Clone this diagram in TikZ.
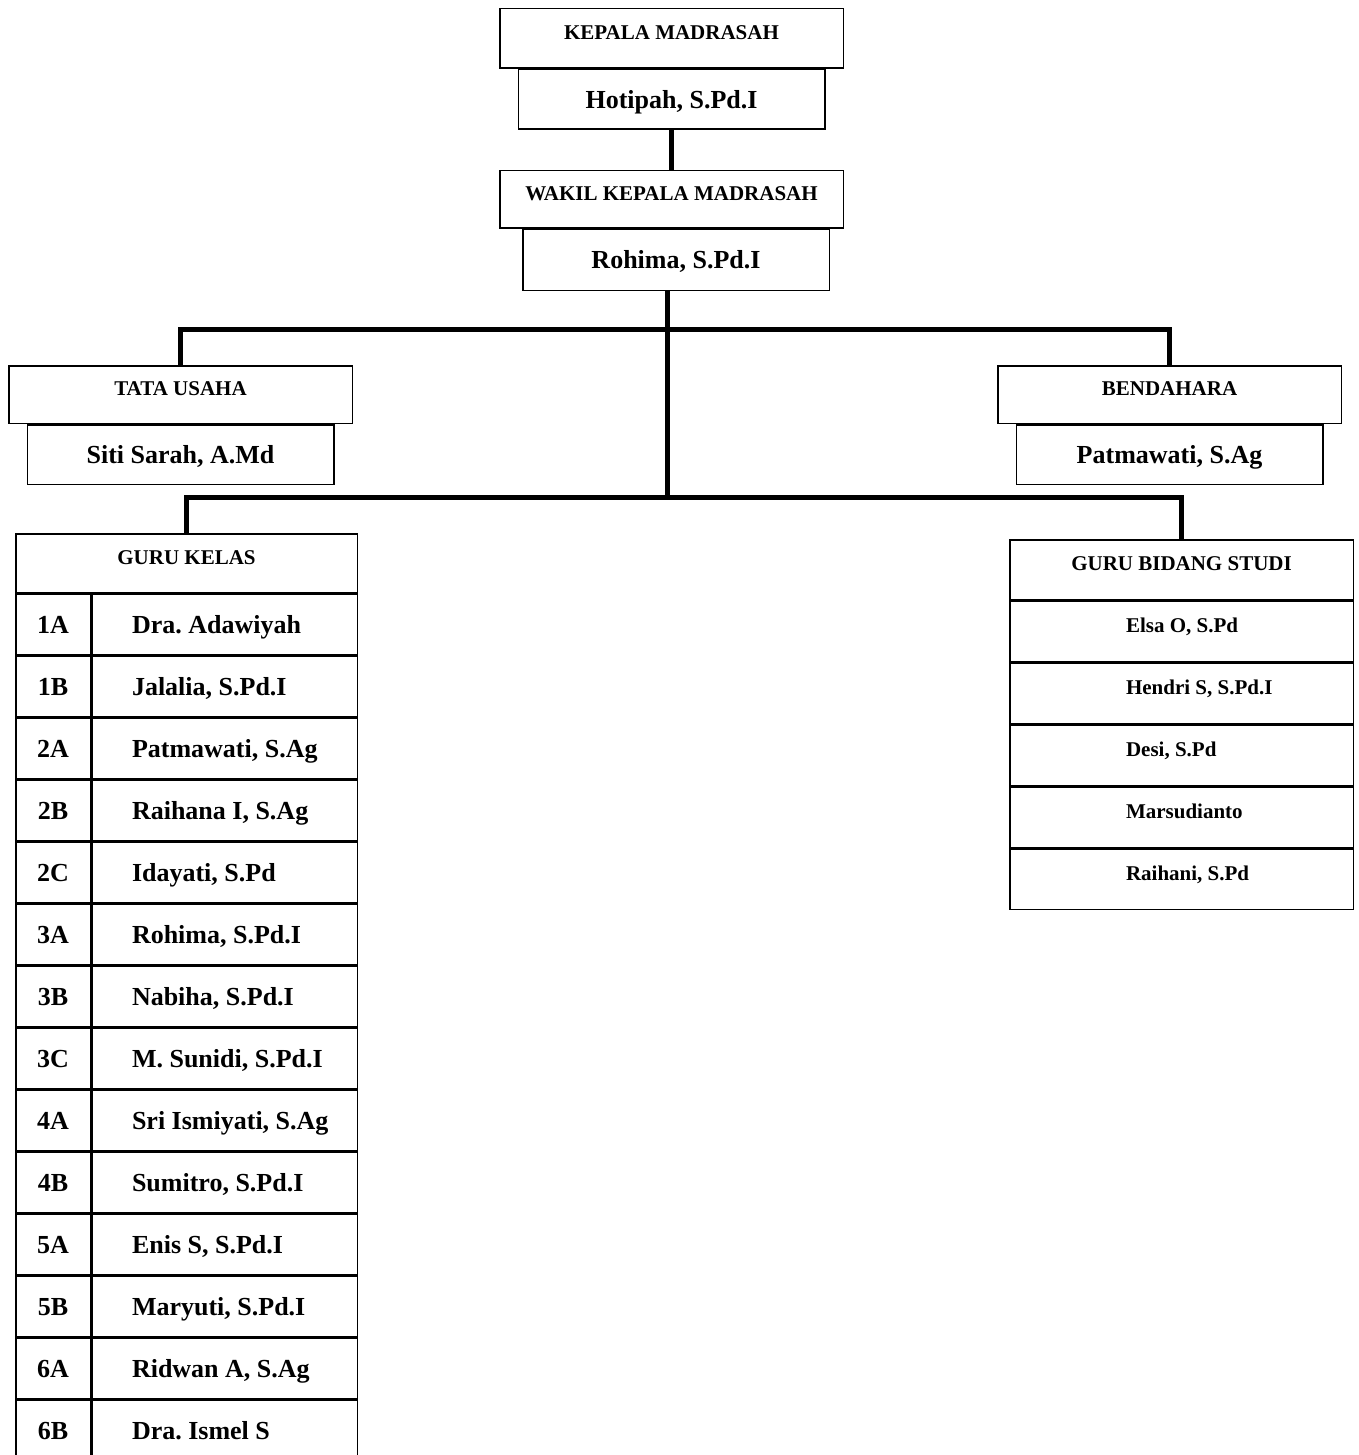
\documentclass[tikz,border=0pt]{standalone}
\usepackage{fontspec}
\setmainfont{Liberation Serif}
\usetikzlibrary{positioning, calc}
\tikzstyle{jabatan} = [rectangle, minimum width=343.5pt, minimum height=57.5pt, inner sep=0pt, text centered, draw=black, line width=1.5pt, font=\fontsize{21}{25}\selectfont\bfseries, text height=14pt, text depth=12pt]
\tikzstyle{nama} = [rectangle, minimum width=306.5pt, minimum height=59.5pt, inner sep=0pt, text centered, draw=black, line width=1.5pt, font=\fontsize{26}{31}\selectfont\bfseries, text height=18pt, text depth=0pt]
\tikzstyle{kelas} = [nama, minimum width=74.5pt, minimum height=60.5pt]
\tikzstyle{guru} = [nama, minimum width=265.5pt, minimum height=60.5pt]
\tikzstyle{mapel} = [jabatan, minimum height=60.5pt]
\tikzstyle{garis} = [line width=5pt]
\newcommand{\kiri}[2][185pt]{\makebox[#1][l]{#2}}
\frenchspacing

\begin{document}
\begin{tikzpicture}[x=1pt, y=-1pt]
\useasboundingbox (0,0) rectangle (1358,1455);

% Pimpinan
\node (kepala) [jabatan, minimum height=59.5pt] at (671.5,38.5) {KEPALA MADRASAH};
\node (hotipah) [nama, below=0pt of kepala] {Hotipah, S.Pd.I};
\node (wakil) [jabatan] at (671.5,199.5) {WAKIL KEPALA MADRASAH};
\node (rohima) [nama, minimum height=60.5pt, below=0pt of wakil, xshift=4.5pt] {Rohima, S.Pd.I};

% Tata usaha e bendahara
\node (tata) [jabatan] at (180.5,394.5) {TATA USAHA};
\node (siti) [nama, below=0pt of tata] {Siti Sarah, A.Md};
\node (bendahara) [jabatan] at (1169.5,394.5) {BENDAHARA};
\node (patmawati) [nama, below=0pt of bendahara] {Patmawati, S.Ag};

% Guru kelas
\node (gurukelas) [jabatan, minimum width=341.5pt, minimum height=58.5pt] at (186.5,563) {GURU KELAS};
\node (kelas_1a) [kelas, below right=0pt and 0pt of gurukelas.south west] {1A};
\node (guru_1a) [guru, right=0pt of kelas_1a] {\kiri{Dra. Adawiyah}};
\node (kelas_1b) [kelas, below=0pt of kelas_1a] {1B};
\node (guru_1b) [guru, right=0pt of kelas_1b] {\kiri{Jalalia, S.Pd.I}};
\node (kelas_2a) [kelas, below=0pt of kelas_1b] {2A};
\node (guru_2a) [guru, right=0pt of kelas_2a] {\kiri{Patmawati, S.Ag}};
\node (kelas_2b) [kelas, below=0pt of kelas_2a] {2B};
\node (guru_2b) [guru, right=0pt of kelas_2b] {\kiri{Raihana I, S.Ag}};
\node (kelas_2c) [kelas, below=0pt of kelas_2b] {2C};
\node (guru_2c) [guru, right=0pt of kelas_2c] {\kiri{Idayati, S.Pd}};
\node (kelas_3a) [kelas, below=0pt of kelas_2c] {3A};
\node (guru_3a) [guru, right=0pt of kelas_3a] {\kiri{Rohima, S.Pd.I}};
\node (kelas_3b) [kelas, below=0pt of kelas_3a] {3B};
\node (guru_3b) [guru, right=0pt of kelas_3b] {\kiri{Nabiha, S.Pd.I}};
\node (kelas_3c) [kelas, below=0pt of kelas_3b] {3C};
\node (guru_3c) [guru, right=0pt of kelas_3c] {\kiri{M. Sunidi, S.Pd.I}};
\node (kelas_4a) [kelas, below=0pt of kelas_3c] {4A};
\node (guru_4a) [guru, right=0pt of kelas_4a] {\kiri{Sri Ismiyati, S.Ag}};
\node (kelas_4b) [kelas, below=0pt of kelas_4a] {4B};
\node (guru_4b) [guru, right=0pt of kelas_4b] {\kiri{Sumitro, S.Pd.I}};
\node (kelas_5a) [kelas, below=0pt of kelas_4b] {5A};
\node (guru_5a) [guru, right=0pt of kelas_5a] {\kiri{Enis S, S.Pd.I}};
\node (kelas_5b) [kelas, below=0pt of kelas_5a] {5B};
\node (guru_5b) [guru, right=0pt of kelas_5b] {\kiri{Maryuti, S.Pd.I}};
\node (kelas_6a) [kelas, below=0pt of kelas_5b] {6A};
\node (guru_6a) [guru, right=0pt of kelas_6a] {\kiri{Ridwan A, S.Ag}};
\node (kelas_6b) [kelas, below=0pt of kelas_6a] {6B};
\node (guru_6b) [guru, right=0pt of kelas_6b] {\kiri{Dra. Ismel S}};

% Guru bidang studi
\node (gurubidang) [jabatan, minimum height=59.5pt] at (1181.5,569.5) {GURU BIDANG STUDI};
\node (mapel_1) [mapel, below=0pt of gurubidang] {\kiri[111pt]{Elsa O, S.Pd}};
\node (mapel_2) [mapel, below=0pt of mapel_1] {\kiri[111pt]{Hendri S, S.Pd.I}};
\node (mapel_3) [mapel, below=0pt of mapel_2] {\kiri[111pt]{Desi, S.Pd}};
\node (mapel_4) [mapel, below=0pt of mapel_3] {\kiri[111pt]{Marsudianto}};
\node (mapel_5) [mapel, below=0pt of mapel_4] {\kiri[111pt]{Raihani, S.Pd}};

% Garis penghubung
\coordinate (snodo1) at (667,329);
\coordinate (snodo2) at (667,497);
\draw [garis] (hotipah.south) -- (wakil.north);
\draw [garis] (rohima.south -| snodo1) -- (snodo2);
\draw [garis] (tata.north) |- (snodo1) -| (bendahara.north);
\draw [garis] (gurukelas.north) |- (snodo2) -| (gurubidang.north);

\end{tikzpicture}
\end{document}
